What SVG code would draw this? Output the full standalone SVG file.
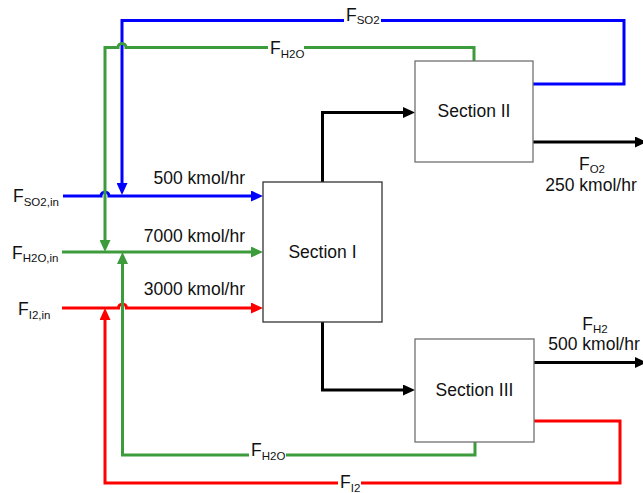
<svg xmlns="http://www.w3.org/2000/svg" width="643" height="493" viewBox="0 0 643 493">
<style>
  text { font-family: "Liberation Sans", Arial, sans-serif; font-size: 17.5px; fill: #111; }
  .sub { font-size: 11.5px; }
  .box { fill: #ffffff; stroke: #707070; stroke-width: 1.3; }
  .dark { stroke: #333333; }
  .ln { fill: none; stroke-width: 3; stroke-linejoin: miter; }
  .blue { stroke: #0000ff; }
  .green { stroke: #3c9c3c; }
  .red { stroke: #ff0000; }
  .black { stroke: #000000; }
  .mask { fill: #ffffff; stroke: none; }
</style>
<defs>
  <marker id="ab" markerUnits="userSpaceOnUse" markerWidth="12" markerHeight="11" refX="6" refY="5.5" orient="auto"><path d="M0,0 L12,5.5 L0,11 z" fill="#0000ff"/></marker>
  <marker id="ag" markerUnits="userSpaceOnUse" markerWidth="12" markerHeight="11" refX="6" refY="5.5" orient="auto"><path d="M0,0 L12,5.5 L0,11 z" fill="#3c9c3c"/></marker>
  <marker id="ar" markerUnits="userSpaceOnUse" markerWidth="12" markerHeight="11" refX="6" refY="5.5" orient="auto"><path d="M0,0 L12,5.5 L0,11 z" fill="#ff0000"/></marker>
  <marker id="ak" markerUnits="userSpaceOnUse" markerWidth="12" markerHeight="11" refX="6" refY="5.5" orient="auto"><path d="M0,0 L12,5.5 L0,11 z" fill="#000000"/></marker>
</defs>

<g id="connectors">
  <!-- inputs -->
  <path class="ln blue" d="M63,196 H101 A4,4 0 0 1 109,196 H257" marker-end="url(#ab)"/>
  <path class="ln green" d="M62,252 H257" marker-end="url(#ag)"/>
  <path class="ln red" d="M62,308 H118.5 A4,4 0 0 1 126.5,308 H257" marker-end="url(#ar)"/>
  <!-- SO2 recycle -->
  <path class="ln blue" d="M533,84 H624 V20.5 H122 V189" marker-end="url(#ab)"/>
  <!-- H2O recycle from Section II -->
  <path class="ln green" d="M474,61 V47.5 H126 A4,4 0 0 0 118,47.5 H105 V246" marker-end="url(#ag)"/>
  <!-- H2O recycle from Section III -->
  <path class="ln green" d="M475,442 V455 H122.5 V258" marker-end="url(#ag)"/>
  <!-- I2 recycle -->
  <path class="ln red" d="M534,421 H620 V483 H105 V314" marker-end="url(#ar)"/>
  <!-- internal flows -->
  <path class="ln black" d="M322.5,182 V112.5 H409" marker-end="url(#ak)"/>
  <path class="ln black" d="M322.5,322 V390 H409" marker-end="url(#ak)"/>
  <path class="ln black" d="M533,142 H641" marker-end="url(#ak)"/>
  <path class="ln black" d="M534,362.5 H641" marker-end="url(#ak)"/>
</g>

<g id="section1">
  <rect class="box dark" x="263" y="182" width="119" height="140"/>
  <text x="322.5" y="258" text-anchor="middle">Section I</text>
</g>
<g id="section2">
  <rect class="box" x="415" y="61" width="118" height="101"/>
  <text x="474" y="117" text-anchor="middle">Section II</text>
</g>
<g id="section3">
  <rect class="box" x="415" y="339" width="119" height="103"/>
  <text x="474.5" y="396" text-anchor="middle">Section III</text>
</g>

<g id="labels">
  <text x="13" y="202">F<tspan class="sub" dy="3.5">SO2,in</tspan></text>
  <text x="12" y="258.5">F<tspan class="sub" dy="3.5">H2O,in</tspan></text>
  <text x="18" y="315">F<tspan class="sub" dy="3.5">I2,in</tspan></text>

  <text x="245" y="184" text-anchor="end">500 kmol/hr</text>
  <text x="245" y="241.5" text-anchor="end">7000 kmol/hr</text>
  <text x="245" y="295" text-anchor="end">3000 kmol/hr</text>

  <text x="592" y="170" text-anchor="middle">F<tspan class="sub" dy="3">O2</tspan></text>
  <text x="591" y="190.5" text-anchor="middle">250 kmol/hr</text>
  <text x="595" y="330" text-anchor="middle">F<tspan class="sub" dy="3">H2</tspan></text>
  <text x="594" y="350" text-anchor="middle">500 kmol/hr</text>

  <rect class="mask" x="344" y="10" width="37" height="16"/>
  <text x="346" y="20.5">F<tspan class="sub" dy="3.5">SO2</tspan></text>
  <rect class="mask" x="268" y="40" width="36" height="16"/>
  <text x="270" y="54">F<tspan class="sub" dy="3.5">H2O</tspan></text>
  <rect class="mask" x="249" y="448" width="37" height="14"/>
  <text x="251" y="456">F<tspan class="sub" dy="3.5">H2O</tspan></text>
  <rect class="mask" x="338" y="476" width="23" height="14"/>
  <text x="340" y="488">F<tspan class="sub" dy="3.5">I2</tspan></text>
</g>
</svg>
